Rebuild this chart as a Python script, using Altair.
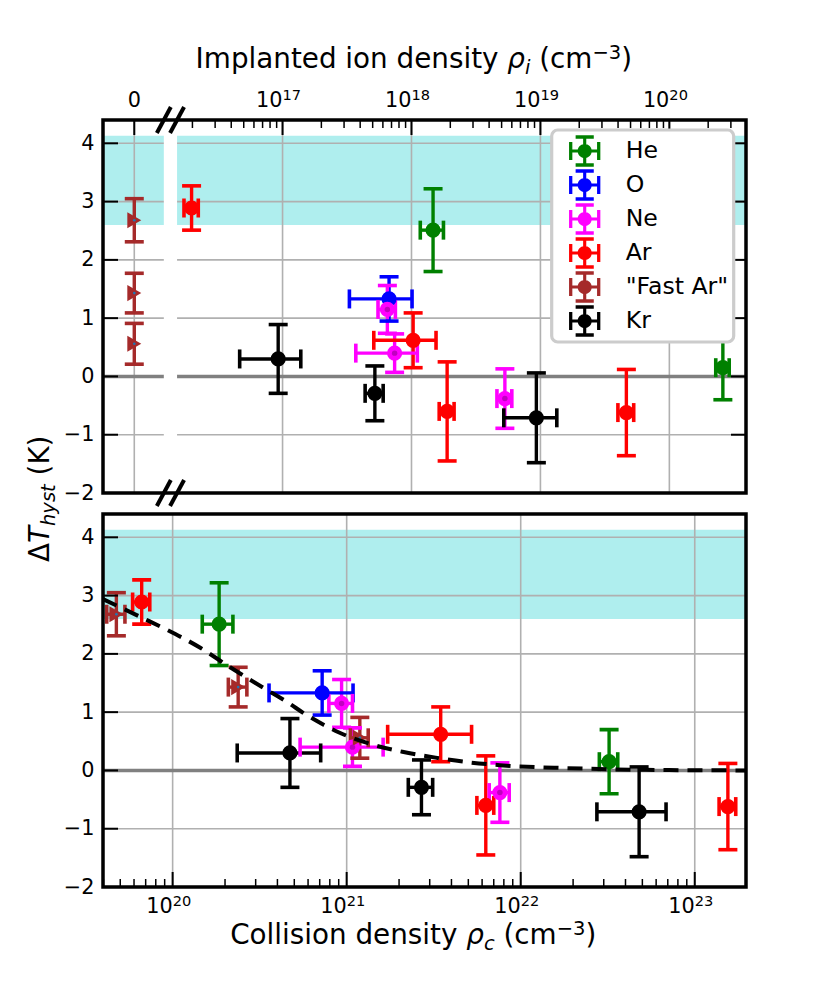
import math
import pandas as pd
import altair as alt

# ---------------- data ----------------
species = ["He", "He", "O", "Ne", "Ne", "Ne", "Ar", "Ar", "Ar", "Ar",
           '"Fast Ar"', '"Fast Ar"', '"Fast Ar"', "Kr", "Kr", "Kr"]
rho_i = [1.47e18, 2.6e20, 6.7e17, 6.5e17, 7.4e17, 5.3e18,
         1.97e16, 1.03e18, 1.89e18, 4.64e19,
         0, 0, 0,
         9.25e16, 5.2e17, 9.3e18]
rho_i_err = [0.30e18, 0.31e20, 3.4e17, 1.0e17, 3.7e17, 0.7e18,
             0.25e16, 5.2e17, 0.25e18, 0.65e19,
             0, 0, 0,
             4.6e16, 0.83e17, 4.1e18]
rho_c = [1.85e20, 3.22e22, 7.23e20, 9.35e20, 1.08e21, 7.59e21,
         6.64e19, 3.47e21, 6.3e21, 1.55e23,
         4.75e19, 2.38e20, 1.19e21,
         4.72e20, 2.69e21, 4.79e22]
rho_c_err = [0.37e20, 0.39e22, 3.65e20, 1.45e20, 5.4e20, 1.0e21,
             0.75e19, 1.75e21, 0.7e21, 1.7e22,
             0.57e19, 0.29e20, 0.14e21,
             2.37e20, 0.43e21, 2.05e22]
dT = [2.51, 0.15, 1.33, 1.15, 0.40, -0.38, 2.89, 0.62, -0.60, -0.62,
      2.68, 1.43, 0.56, 0.30, -0.29, -0.71]
dT_err = [0.71, 0.55, 0.38, 0.41, 0.33, 0.51, 0.38, 0.47, 0.85, 0.74,
          0.37, 0.34, 0.35, 0.59, 0.47, 0.77]

species_order = ["He", "O", "Ne", "Ar", '"Fast Ar"', "Kr"]
species_colors = ["#008000", "#0000ff", "#ff00ff", "#ff0000", "#a52a2a", "#000000"]

fit_rho_c = [3.98e19, 6.46e19, 9.33e19, 1.45e20, 2.14e20, 3.31e20, 4.57e20,
             5.75e20, 7.41e20, 8.91e20, 1.38e21, 2.09e21, 3.24e21, 5.01e21,
             7.59e21, 1.82e22, 4.47e22, 1.95e23]
fit_dT = [2.94, 2.64, 2.41, 2.10, 1.77, 1.42, 1.17, 0.97, 0.78, 0.66,
          0.45, 0.32, 0.22, 0.14, 0.09, 0.04, 0.013, 0.0]

band = [2.6, 4.13]
y_ticks = [-2, -1, 0, 1, 2, 3, 4]
top_major = [1e17, 1e18, 1e19, 1e20]
bot_major = [1e20, 1e21, 1e22, 1e23]

# ---------------- layout constants ----------------
FONT = "DejaVu Sans"
W, H = 643, 373
TOP_DOM = [4.05e15, 3.93e20]
BOT_DOM = [3.98e19, 1.97e23]
Y_DOM = [-2.0, 4.4]
ZERO_POS = 7.08e15          # where rho_i = 0 sits, left of the axis break
BREAK_LO, BREAK_HI = 1.20e16, 1.52e16
TICK_FS, SUP_FS, TITLE_FS, SUB_FS = 20.8, 14.6, 27.8, 19.5
STEM_W, CAP_LEN, CAP_W = 3.4, 19, 3.6

top_minor = [m * 10.0 ** e for e in range(15, 21) for m in range(2, 10)
             if BREAK_HI < m * 10.0 ** e < TOP_DOM[1]]
bot_minor = [m * 10.0 ** e for e in range(19, 24) for m in range(2, 10)
             if BOT_DOM[0] < m * 10.0 ** e < BOT_DOM[1]]

pts = pd.DataFrame({"species": species, "rho_i": rho_i, "rho_i_err": rho_i_err,
                    "rho_c": rho_c, "rho_c_err": rho_c_err, "dT": dT, "dT_err": dT_err})
pts["dT_lo"] = pts["dT"] - pts["dT_err"]
pts["dT_hi"] = pts["dT"] + pts["dT_err"]
pts["rho_i_lo"] = pts["rho_i"] - pts["rho_i_err"]
pts["rho_i_hi"] = pts["rho_i"] + pts["rho_i_err"]
pts["rho_c_lo"] = pts["rho_c"] - pts["rho_c_err"]
pts["rho_c_hi"] = pts["rho_c"] + pts["rho_c_err"]
fit = pd.DataFrame({"rho_c": fit_rho_c, "dT": fit_dT})
one = pd.DataFrame({"k": [0]})

CS = alt.Scale(domain=species_order, range=species_colors)
YS = alt.Scale(domain=Y_DOM, nice=False, zero=False)
XT = alt.Scale(type="log", domain=TOP_DOM, nice=False)
XB = alt.Scale(type="log", domain=BOT_DOM, nice=False)


def rect_path(x0, y0, x1, y1):
    return f"M{x0},{y0}H{x1}V{y1}H{x0}Z"


LEG_PATH = (rect_path(-0.58, -1, 0.58, -0.79) + rect_path(-0.58, 0.79, 0.58, 1)
            + rect_path(-1, -0.58, -0.79, 0.58) + rect_path(0.79, -0.58, 1, 0.58)
            + rect_path(-0.1, -0.9, 0.1, 0.9) + rect_path(-0.9, -0.1, 0.9, 0.1)
            + "M0.45,0A0.45,0.45 0 1 1 -0.45,0A0.45,0.45 0 1 1 0.45,0Z")

LEGEND = alt.Legend(title=None, orient="none", legendX=448.7, legendY=10,
                    symbolType=LEG_PATH, symbolSize=979, symbolStrokeWidth=0,
                    symbolOpacity=1,
                    labelFont=FONT, labelFontSize=23.6, labelColor="black",
                    labelOffset=25, rowPadding=2, padding=5, symbolOffset=12,
                    strokeColor="#cccccc", fillColor="white", cornerRadius=6,
                    labelLimit=400, zindex=2)

YAXIS = alt.Axis(values=y_ticks, format="d", ticks=False, tickSize=0, domain=False,
                 grid=False, labelPadding=9, title=None, labelFont=FONT,
                 labelFontSize=TICK_FS, labelColor="black")


def col(legend=None):
    if legend is None:
        return alt.Color("species:N", scale=CS, legend=None)
    return alt.Color("species:N", scale=CS, legend=legend)


def Yf(f):
    return alt.Y(f, scale=YS, axis=YAXIS)


def data_layers(base, xs, xf, lof, hif, errf, legend):
    X = lambda f: alt.X(f, scale=xs, axis=None)
    main = base.transform_filter(alt.FieldOneOfPredicate(field="species",
                                                         oneOf=["He", "O", "Ne", "Ar", "Kr"]))
    fast = base.transform_filter(alt.FieldEqualPredicate(field="species", equal='"Fast Ar"'))
    ne = base.transform_filter(alt.FieldEqualPredicate(field="species", equal="Ne"))
    L = []
    if legend is not None:
        # invisible carrier of the legend, placed before every other colour layer
        L.append(main.mark_point(filled=True, shape="circle", size=10, opacity=0).encode(
            x=X(f"{xf}:Q"), y=Yf("dT:Q"), color=col(legend)))
    L.append(base.mark_rule(strokeWidth=STEM_W, opacity=1).encode(
        x=X(f"{xf}:Q"), y=Yf("dT_lo:Q"), y2="dT_hi:Q", color=col()))
    L.append(base.transform_fold(["dT_lo", "dT_hi"], as_=["end", "cap"]).mark_tick(
        orient="horizontal", size=CAP_LEN, thickness=CAP_W, opacity=1).encode(
        x=X(f"{xf}:Q"), y=Yf("cap:Q"), color=col()))
    xb = base.transform_filter(f"datum.{errf} > 0")
    L.append(xb.mark_rule(strokeWidth=STEM_W, opacity=1).encode(
        x=X(f"{lof}:Q"), x2=f"{hif}:Q", y=Yf("dT:Q"), color=col()))
    L.append(xb.transform_fold([lof, hif], as_=["end", "cap"]).mark_tick(
        orient="vertical", size=CAP_LEN, thickness=CAP_W, opacity=1).encode(
        x=X("cap:Q"), y=Yf("dT:Q"), color=col()))
    L.append(main.mark_point(filled=True, shape="circle", size=230, opacity=1).encode(
        x=X(f"{xf}:Q"), y=Yf("dT:Q"), color=col()))
    L.append(fast.mark_point(filled=True, shape="triangle-right", size=260, opacity=1,
                             color="#a52a2a").encode(x=X(f"{xf}:Q"), y=Yf("dT:Q")))
    L.append(ne.mark_point(filled=True, shape="circle", size=30, opacity=1,
                           color="#c000c0").encode(x=X(f"{xf}:Q"), y=Yf("dT:Q")))
    L.append(fast.mark_point(filled=True, shape="circle", size=7, opacity=1,
                             color="#1f77b4").encode(x=X(f"{xf}:Q"), y=Yf("dT:Q")))
    return L


def grid_layers(xs, xgrid):
    L = []
    L.append(alt.Chart(pd.DataFrame({"lo": [band[0]], "hi": [band[1]]})).mark_rect(
        color="#afeeee", opacity=1).encode(
        y=Yf("lo:Q"), y2="hi:Q", x=alt.value(0), x2=alt.value(W)))
    L.append(alt.Chart(pd.DataFrame({"v": y_ticks})).mark_rule(
        color="#b0b0b0", strokeWidth=1.6, opacity=1).encode(
        y=Yf("v:Q"), x=alt.value(0), x2=alt.value(W)))
    L.append(alt.Chart(pd.DataFrame({"v": xgrid})).mark_rule(
        color="#b0b0b0", strokeWidth=1.6, opacity=1).encode(
        x=alt.X("v:Q", scale=xs, axis=None), y=alt.value(0), y2=alt.value(H)))
    L.append(alt.Chart(pd.DataFrame({"v": [0]})).mark_rule(
        color="#808080", strokeWidth=3.5, opacity=1).encode(
        y=Yf("v:Q"), x=alt.value(0), x2=alt.value(W)))
    return L


def xticks(xs, vals, y0, y1, width):
    return alt.Chart(pd.DataFrame({"v": vals})).mark_rule(
        color="black", strokeWidth=width, opacity=1).encode(
        x=alt.X("v:Q", scale=xs, axis=None), y=alt.value(y0), y2=alt.value(y1))


def yticks(x0, x1):
    return alt.Chart(pd.DataFrame({"v": y_ticks})).mark_rule(
        color="black", strokeWidth=2, opacity=1).encode(
        y=Yf("v:Q"), x=alt.value(x0), x2=alt.value(x1))


def frame():
    return alt.Chart(one).mark_rect(filled=False, color="black", strokeWidth=3.5,
                                    opacity=1).encode(
        x=alt.value(0), x2=alt.value(W), y=alt.value(0), y2=alt.value(H))


def tick_labels(xs, vals, yb):
    df = pd.DataFrame({"v": vals, "sup": [str(int(round(math.log10(v)))) for v in vals]})
    a = alt.Chart(df).mark_text(text="10", font=FONT, fontSize=TICK_FS, align="right",
                                baseline="alphabetic", color="black").encode(
        x=alt.X("v:Q", scale=xs, axis=None), y=alt.value(yb))
    b = alt.Chart(df).mark_text(font=FONT, fontSize=SUP_FS, align="left",
                                baseline="alphabetic", color="black").encode(
        x=alt.X("v:Q", scale=xs, axis=None), y=alt.value(yb - 7), text="sup:N")
    return [a, b]


ADV = {" ": 651, "(": 799, ")": 799, "\u2212": 1716, "3": 1303, "C": 1430, "I": 604,
       "K": 1343, "T": 1251, "\u0394": 1401, "\u03c1": 1300, "a": 1255, "c": 1126,
       "d": 1300, "e": 1260, "h": 1298, "i": 569, "l": 569, "m": 1995, "n": 1298,
       "o": 1253, "p": 1300, "s": 1067, "t": 803, "y": 1212}


def adv(s, fs):
    return sum(ADV.get(c, 1250) for c in s) / 2048.0 * fs


def text_run(segs, x0, y0, vertical=False):
    out, pos = [], 0.0
    for txt, fs, style, shift in segs:
        lead = len(txt) - len(txt.lstrip(" "))
        core = txt.strip(" ")
        off = pos + adv(" " * lead, fs)
        if vertical:
            x, y, ang = x0 + shift, y0 - off, 270
        else:
            x, y, ang = x0 + off, y0 + shift, 0
        out.append(alt.Chart(one).mark_text(
            text=core, font=FONT, fontSize=fs, fontStyle=style, align="left",
            baseline="alphabetic", angle=ang, color="black").encode(
            x=alt.value(x), y=alt.value(y)))
        pos += adv(txt, fs)
    return out


# ---------------- top panel ----------------
top_base = alt.Chart(pts).transform_calculate(
    xi=f"datum.rho_i == 0 ? {ZERO_POS} : datum.rho_i")

gap = alt.Chart(pd.DataFrame({"a": [BREAK_LO], "b": [BREAK_HI]})).mark_rect(
    color="white", opacity=1).encode(
    x=alt.X("a:Q", scale=XT, axis=None), x2="b:Q", y=alt.value(2), y2=alt.value(H - 2))

breaks = []
for ya, yb in [(13, -13), (H + 13, H - 13)]:
    breaks.append(alt.Chart(pd.DataFrame({"c": [BREAK_LO, BREAK_HI]})).mark_rule(
        color="black", strokeWidth=4, opacity=1, xOffset=-7, x2Offset=7).encode(
        x=alt.X("c:Q", scale=XT, axis=None), x2="c:Q", y=alt.value(ya), y2=alt.value(yb)))

zero_label = alt.Chart(pd.DataFrame({"v": [ZERO_POS]})).mark_text(
    text="0", font=FONT, fontSize=TICK_FS, align="center", baseline="alphabetic",
    color="black").encode(x=alt.X("v:Q", scale=XT, axis=None), y=alt.value(-13))

anchor = alt.Chart(one).mark_rect(color="white", opacity=1).encode(
    x=alt.value(-95), x2=alt.value(-94), y=alt.value(-112), y2=alt.value(-111))

top_title = text_run([("Implanted ion density ", TITLE_FS, "normal", 0),
                      ("\u03c1", TITLE_FS, "italic", 0),
                      ("i", SUB_FS, "italic", 5.5),
                      (" (cm", TITLE_FS, "normal", 0),
                      ("\u22123", SUB_FS, "normal", -9.5),
                      (")", TITLE_FS, "normal", 0)], 92.6, -51.7)
y_title = text_run([("\u0394", TITLE_FS, "normal", 0),
                    ("T", TITLE_FS, "italic", 0),
                    ("hyst", SUB_FS, "italic", 5.5),
                    (" (K)", TITLE_FS, "normal", 0)], -53.7, 442, vertical=True)

top_layers = (grid_layers(XT, [ZERO_POS] + top_major) + [gap]
              + data_layers(top_base, XT, "xi", "rho_i_lo", "rho_i_hi", "rho_i_err", LEGEND)
              + [xticks(XT, [ZERO_POS] + top_major, 0, 15, 2),
                 xticks(XT, top_minor, 0, 8, 1.5),
                 yticks(0, 15), yticks(W - 15, W), frame()]
              + breaks + tick_labels(XT, top_major, -13) + [zero_label]
              + top_title + y_title + [anchor])
top = alt.layer(*top_layers).properties(width=W, height=H)

# ---------------- bottom panel ----------------
bot_base = alt.Chart(pts)
fit_line = alt.Chart(fit).mark_line(color="black", strokeWidth=4, strokeDash=[15, 9],
                                    interpolate="monotone", opacity=1).encode(
    x=alt.X("rho_c:Q", scale=XB, axis=None), y=Yf("dT:Q"))

bot_title = text_run([("Collision density ", TITLE_FS, "normal", 0),
                      ("\u03c1", TITLE_FS, "italic", 0),
                      ("c", SUB_FS, "italic", 5.5),
                      (" (cm", TITLE_FS, "normal", 0),
                      ("\u22123", SUB_FS, "normal", -9.5),
                      (")", TITLE_FS, "normal", 0)], 127.2, 430.3)

bot_layers = (grid_layers(XB, bot_major)
              + data_layers(bot_base, XB, "rho_c", "rho_c_lo", "rho_c_hi", "rho_c_err", None)
              + [fit_line,
                 xticks(XB, bot_major, H - 15, H, 2),
                 xticks(XB, bot_minor, H - 8, H, 1.5),
                 yticks(0, 15), frame()]
              + tick_labels(XB, bot_major, H + 26.3) + bot_title)
bottom = alt.layer(*bot_layers).properties(width=W, height=H)

chart = alt.vconcat(top, bottom, spacing=21, bounds="flush").resolve_scale(
    x="independent", y="independent", color="independent").properties(
    padding={"left": 0, "top": 0, "right": 5, "bottom": 5}).configure_view(
    strokeWidth=0).configure_axis(
    labelFont=FONT, labelFontSize=TICK_FS, labelColor="black").configure_legend(
    strokeWidth=3.2)

chart.save("out.html", embed_options={"renderer": "svg", "actions": False})
